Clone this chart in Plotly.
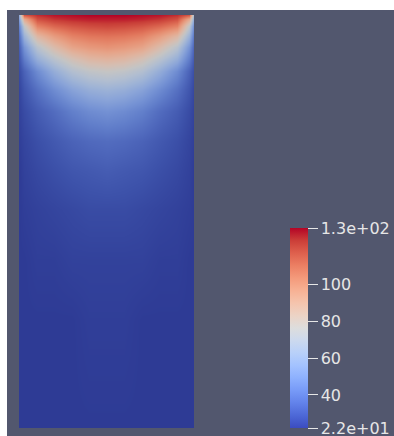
import plotly.graph_objects as go

# Field sample positions (x across cavity, y height from bottom)
x_pos = [0.0, 0.03, 0.1, 0.2, 0.3, 0.4, 0.5, 0.6, 0.7, 0.8, 0.9, 0.97, 1.0]
y_pos = [0.0, 0.62, 0.96, 1.25, 1.47, 1.64, 1.81, 1.93, 2.04, 2.11, 2.18, 2.24, 2.30, 2.34, 2.36]

# Temperature values (rows bottom -> top)
temp_rows = [
    [22, 22, 22, 22, 22, 22, 22, 22, 22, 22, 22, 22, 22],
    [22, 22, 22, 22, 22, 23, 23, 23, 22, 22, 22, 22, 22],
    [22, 22, 23, 23, 24, 24, 24, 24, 24, 23, 23, 22, 22],
    [22, 23, 24, 25, 26, 27, 27, 27, 26, 25, 24, 23, 22],
    [22, 24, 26, 28, 30, 31, 32, 31, 30, 28, 26, 24, 22],
    [23, 25, 28, 31, 34, 36, 37, 36, 34, 31, 28, 25, 23],
    [24, 27, 32, 37, 43, 47, 49, 47, 43, 37, 32, 27, 24],
    [25, 30, 38, 47, 55, 60, 62, 60, 55, 47, 38, 30, 25],
    [27, 34, 47, 60, 70, 75, 77, 75, 70, 60, 47, 34, 27],
    [30, 42, 60, 72, 82, 88, 90, 88, 82, 72, 60, 42, 30],
    [33, 50, 72, 86, 97, 101, 103, 101, 97, 86, 72, 50, 33],
    [38, 62, 88, 100, 108, 111, 112, 111, 108, 100, 88, 62, 38],
    [45, 75, 108, 115, 119, 121, 122, 121, 119, 115, 108, 75, 45],
    [55, 95, 120, 125, 127, 128, 128, 128, 127, 125, 120, 95, 55],
    [60, 118, 126, 129, 130, 131, 131, 131, 130, 129, 126, 118, 60],
]

t_min = 22
t_max = 131
tick_vals = [22, 40, 60, 80, 100, 131]
tick_text = ["2.2e+01", "40", "60", "80", "100", "1.3e+02"]

# ParaView "Cool to Warm" colour map
cw = [
    (59, 76, 192), (77, 104, 215), (98, 130, 234), (119, 154, 247),
    (141, 176, 254), (163, 194, 255), (184, 208, 249), (204, 217, 238),
    (221, 221, 221), (236, 211, 197), (245, 196, 173), (247, 177, 148),
    (244, 154, 123), (236, 127, 99), (222, 96, 77), (203, 62, 56), (180, 4, 38),
]
n = len(cw) - 1
bar_scale = [[i / n, "rgb(%d,%d,%d)" % c] for i, c in enumerate(cw)]
shade = 0.78
field_scale = [[i / n, "rgb(%d,%d,%d)" % tuple(int(v * (shade + (1 - shade) * i / n)) for v in c)]
               for i, c in enumerate(cw)]

W, H = 394, 436
BG = "#52576e"

fig = go.Figure()
fig.add_trace(go.Heatmap(
    x=x_pos, y=y_pos, z=temp_rows,
    zmin=t_min, zmax=t_max, zsmooth="best",
    colorscale=field_scale, showscale=False, hoverinfo="skip",
))
fig.add_trace(go.Scatter(
    x=[None], y=[None], mode="markers", showlegend=False, hoverinfo="skip",
    marker=dict(
        color=[t_min], cmin=t_min, cmax=t_max, colorscale=bar_scale, showscale=True,
        colorbar=dict(
            thickness=18, thicknessmode="pixels",
            len=200 / H, lenmode="fraction",
            x=290 / W, xanchor="left", xpad=0,
            y=(H - 428) / H, yanchor="bottom", ypad=0,
            outlinewidth=0,
            tickmode="array", tickvals=tick_vals, ticktext=tick_text,
            ticks="outside", ticklen=10, tickwidth=1, tickcolor="#e6e6e6",
            ticklabeloverflow="allow",
            tickfont=dict(family="DejaVu Sans", size=16, color="#e6e6e6"),
        ),
    ),
))

fig.update_layout(
    width=W, height=H,
    margin=dict(l=0, r=0, t=0, b=0),
    paper_bgcolor="white", plot_bgcolor=BG,
    xaxis=dict(domain=[19 / W, 194 / W], range=[0, 1], visible=False, fixedrange=True),
    yaxis=dict(domain=[(H - 428) / H, (H - 15) / H], range=[0, 2.36], visible=False, fixedrange=True),
    shapes=[dict(type="rect", xref="paper", yref="paper", x0=7 / W, x1=1.01, y0=-0.01,
                 y1=(H - 10) / H, fillcolor=BG, line=dict(width=0), layer="below")],
)

fig.write_html(
    "out.html",
    config={"displayModeBar": False, "staticPlot": True},
    post_script="document.body.style.margin='0';document.body.style.overflow='hidden';",
)
